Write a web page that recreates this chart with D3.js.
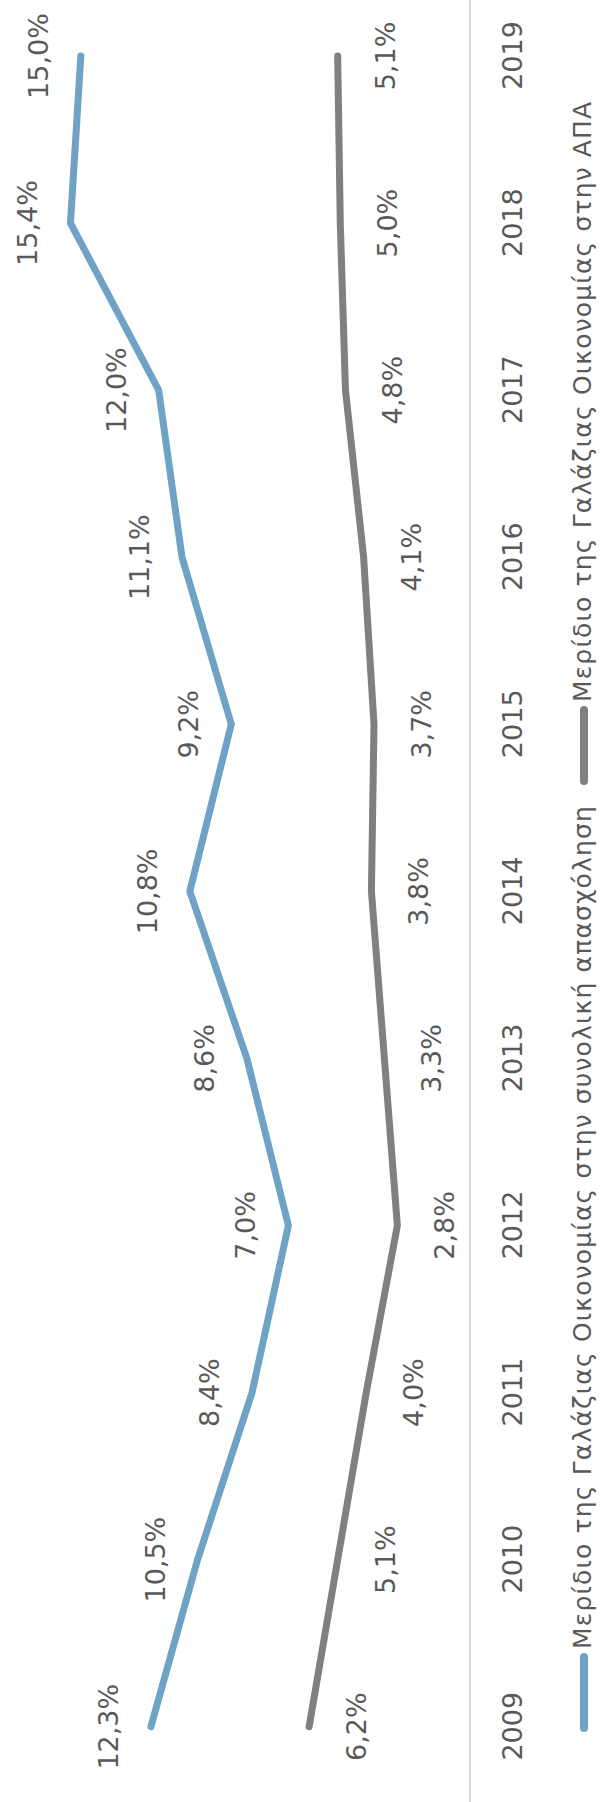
<!DOCTYPE html>
<html>
<head>
<meta charset="utf-8">
<script src="https://cdn.jsdelivr.net/npm/d3@7"></script>
<style>
  html, body { margin: 0; padding: 0; background: #ffffff; }
  svg { display: block; }
  text { font-family: "DejaVu Sans", sans-serif; fill: #595959; }
</style>
</head>
<body>
<svg id="chart" width="602" height="1802"></svg>
<script>
// ---- data ----
const years = ["2009","2010","2011","2012","2013","2014","2015","2016","2017","2018","2019"];
const employmentShare = [12.3, 10.5, 8.4, 7.0, 8.6, 10.8, 9.2, 11.1, 12.0, 15.4, 15.0];
const gvaShare = [6.2, 5.1, 4.0, 2.8, 3.3, 3.8, 3.7, 4.1, 4.8, 5.0, 5.1];
const seriesNames = [
  "Μερίδιο της Γαλάζιας Οικονομίας στην συνολική απασχόληση",
  "Μερίδιο της Γαλάζιας Οικονομίας στην ΑΠΑ"
];
const seriesColors = ["#6fa2c5", "#808080"];

// ---- layout (chart drawn in a 1802 x 602 frame, rotated -90deg) ----
const W = 1802, H = 602;
const svg = d3.select("#chart");
const g = svg.append("g").attr("transform", `translate(0,${W}) rotate(-90)`);

const x = d3.scalePoint().domain(years).range([75.3, 1746]);
const y = d3.scaleLinear().domain([0, 18]).range([470, 3]);

// category axis
const axisG = g.append("g").attr("transform", `translate(0,${y(0)})`)
  .call(d3.axisBottom(x).tickSize(0).tickPadding(0));
axisG.select(".domain").remove();
axisG.selectAll("text")
  .attr("y", 51.5).attr("dy", 0)
  .style("font-size", "27px")
  .style("font-family", "'DejaVu Sans', sans-serif")
  .attr("fill", "#595959");
g.append("line")
  .attr("x1", 0).attr("x2", W)
  .attr("y1", y(0)).attr("y2", y(0))
  .attr("stroke", "#d9d9d9").attr("stroke-width", 2);

const fmt = v => d3.format(".1f")(v).replace(".", ",") + "%";

const series = [
  { name: seriesNames[0], values: employmentShare, color: seriesColors[0], dy: -33 },
  { name: seriesNames[1], values: gvaShare, color: seriesColors[1], dy: 57 }
];

const line = d3.line().x((d, i) => x(years[i])).y(d => y(d));

series.forEach(s => {
  g.append("path")
    .datum(s.values)
    .attr("d", line)
    .attr("fill", "none")
    .attr("stroke", s.color)
    .attr("stroke-width", 7)
    .attr("stroke-linecap", "round")
    .attr("stroke-linejoin", "round");
  g.append("g").selectAll("text")
    .data(s.values)
    .join("text")
    .attr("x", (d, i) => x(years[i]))
    .attr("y", d => y(d) + s.dy)
    .attr("text-anchor", "middle")
    .style("font-size", "27px")
    .text(d => fmt(d));
});

// ---- legend ----
const legend = g.append("g").attr("transform", "translate(70,584)");
let cx = 0;
series.forEach((s, i) => {
  legend.append("line")
    .attr("x1", cx + 4).attr("x2", cx + 75)
    .attr("y1", 0).attr("y2", 0)
    .attr("stroke", s.color).attr("stroke-width", 8)
    .attr("stroke-linecap", "round");
  const t = legend.append("text")
    .attr("x", cx + 83).attr("y", 6.5)
    .style("font-size", "25px")
    .style("letter-spacing", "1.15px")
    .text(s.name);
  cx += 83 + t.node().getComputedTextLength() + 20;
});
</script>
</body>
</html>
